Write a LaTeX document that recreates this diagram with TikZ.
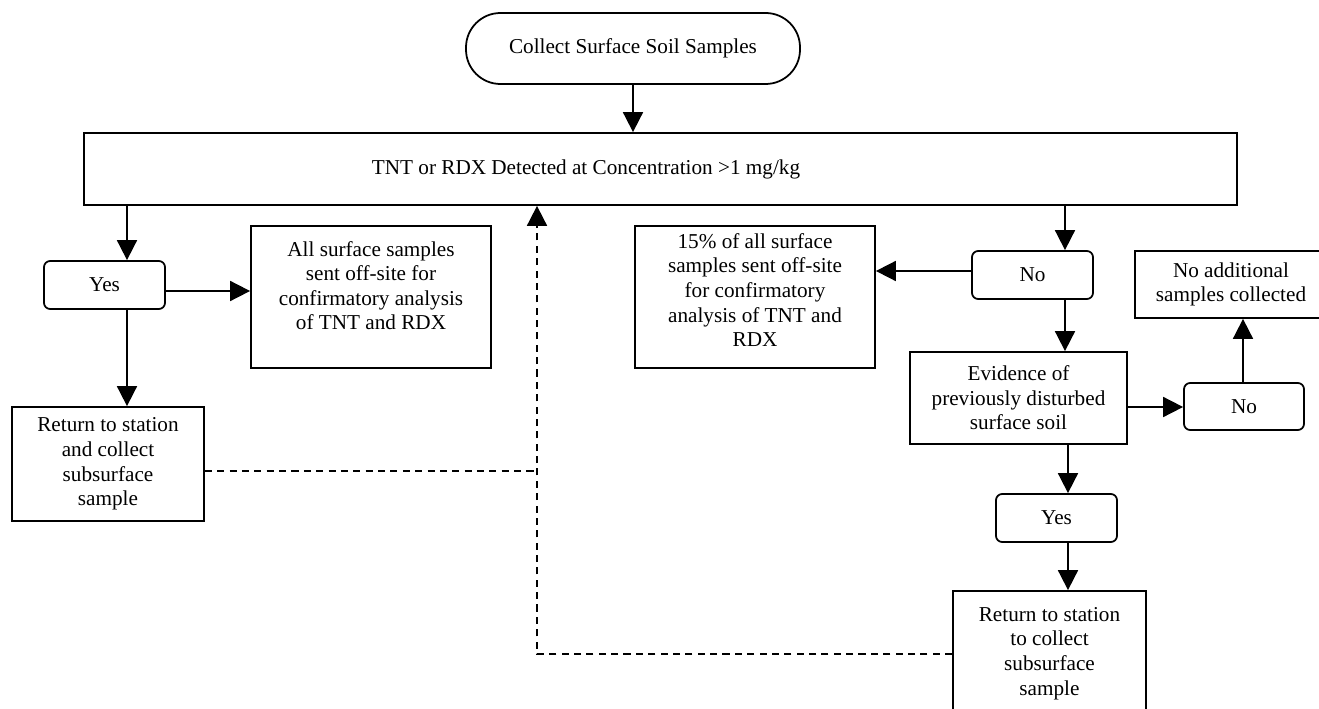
\documentclass[tikz,border=0pt]{standalone}
\usepackage{fontspec}
\setmainfont{Liberation Serif}
\usetikzlibrary{arrows.meta,calc}
\begin{document}
\begin{tikzpicture}[x=0.566pt,y=-0.566pt,
  every node/.style={font=\fontsize{12pt}{13.9pt}\selectfont, align=center},
  sz/.style 2 args={minimum width={#1*0.566pt}, minimum height={#2*0.566pt}},
  box/.style={draw, line width=1pt, inner sep=0pt},
  rbox/.style={box, rounded corners=3.5pt},
  term/.style={box, rounded corners=19.5pt},
  txt/.style={inner sep=0pt},
  arr/.style={line width=1pt, -{Triangle[length=11.3pt,width=11.3pt]}},
  dsh/.style={line width=1pt, dash pattern=on 4pt off 3pt}]
\useasboundingbox (0,0) rectangle (1319,709);
\clip (0,0) rectangle (1319,709);

% nodes
\node[term, sz={334}{71}] (start) at (633,48.5) {Collect Surface Soil Samples};
\node[box, sz={1153}{72}] (big) at (660.5,169) {};
\node[txt] (bigtxt) at (586,169) {TNT or RDX Detected at Concentration >1 mg/kg};
\node[rbox, sz={121}{48}] (yesL) at (104.5,285) {Yes};
\node[box, sz={240}{142}] (allbox) at (371,297) {};
\node[txt] (alltxt) at (371,285.5) {All surface samples\\sent off-site for\\confirmatory analysis\\of TNT and RDX};
\node[box, sz={192}{114}] (retL) at (108,464) {Return to station\\and collect\\subsurface\\sample};
\node[box, sz={240}{142}] (pctbox) at (755,297) {};
\node[txt] (pcttxt) at (755,290) {15\% of all surface\\samples sent off-site\\for confirmatory\\analysis of TNT and\\RDX};
\node[rbox, sz={121}{48}] (noM) at (1032.5,275) {No};
\node[box, sz={217}{92}] (evid) at (1018.5,398) {Evidence of\\previously disturbed\\surface soil};
\node[rbox, sz={121}{48}] (yesR) at (1056.5,518) {Yes};
\node[box, sz={193}{125}] (retR) at (1049.5,653.5) {Return to station\\to collect\\subsurface\\sample};
\node[rbox, sz={120}{47}] (noR) at (1244,406.5) {No};
\node[box, sz={192}{67}] (noadd) at (1231,284.5) {No additional\\samples collected};

% helper coordinates
\coordinate (xA) at (127,0);
\coordinate (xB) at (1065,0);
\coordinate (xC) at (1068,0);
\coordinate (xD) at (537,0);
\coordinate (xE) at (1243,0);
\coordinate (yA) at (0,291);
\coordinate (yB) at (0,271);
\coordinate (yC) at (0,407);
\coordinate (yD) at (0,471);
\coordinate (yE) at (0,654);

% connectors
\draw[arr] (start.south) -- (start.south |- big.north);
\draw[arr] (big.south -| xA) -- (yesL.north -| xA);
\draw[arr] (yesL.south -| xA) -- (retL.north -| xA);
\draw[arr] (yesL.east |- yA) -- (allbox.west |- yA);
\draw[arr] (big.south -| xB) -- (noM.north -| xB);
\draw[arr] (noM.west |- yB) -- (pctbox.east |- yB);
\draw[arr] (noM.south -| xB) -- (evid.north -| xB);
\draw[arr] (evid.south -| xC) -- (yesR.north -| xC);
\draw[arr] (yesR.south -| xC) -- (retR.north -| xC);
\draw[arr] (evid.east |- yC) -- (noR.west |- yC);
\draw[arr] (noR.north -| xE) -- (noadd.south -| xE);
\draw[dsh] (retL.east |- yD) -- (yD -| xD);
\draw[dsh, arr] (retR.west |- yE) -- (yE -| xD) -- (big.south -| xD);
\end{tikzpicture}
\end{document}
